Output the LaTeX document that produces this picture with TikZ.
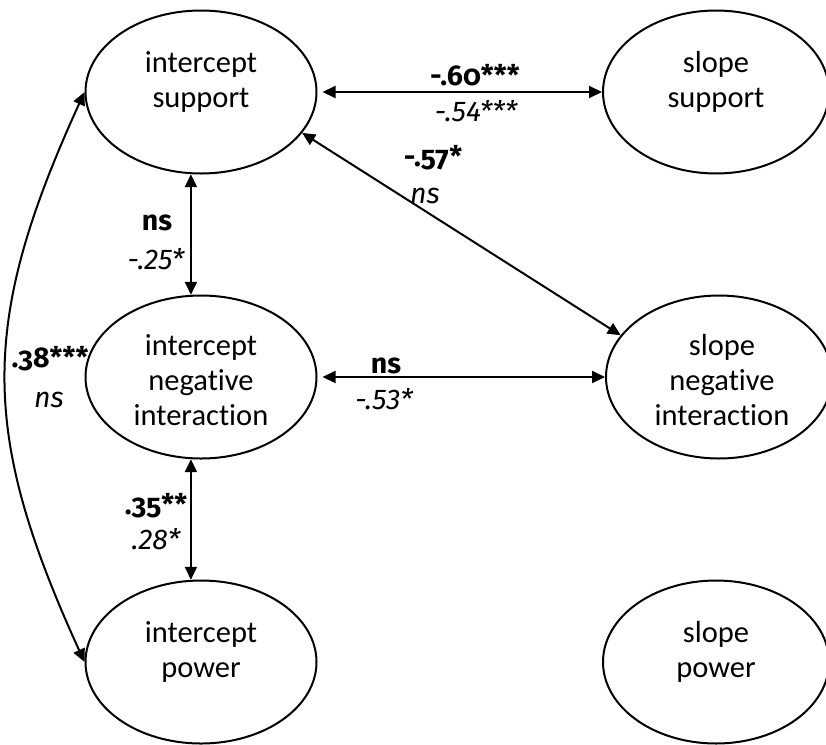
\documentclass[tikz,border=0pt]{standalone}
\usepackage{fontspec}
\setmainfont{Carlito}[Numbers=OldStyle,RawFeature=-liga]
\newfontfamily\coeffont{Fira Sans}[Numbers=OldStyle]
\newfontfamily\coeflining{Fira Sans}[Numbers=Lining]
\usetikzlibrary{shapes.geometric,arrows.meta}
\begin{document}
\begin{tikzpicture}[x=1pt,y=-1pt,
  latent/.style={draw,ellipse,line width=2pt,minimum width=231pt,minimum height=163pt,inner sep=0pt},
  factorname/.style={align=center,anchor=north,inner sep=0pt,font=\fontsize{30.5}{35}\selectfont},
  coef/.style={anchor=base,inner sep=0pt,font=\coeffont\fontsize{28.5}{32}\selectfont\bfseries},
  coefit/.style={anchor=base,inner sep=0pt,font=\coeflining\fontsize{28.5}{32}\selectfont\itshape},
  link/.style={line width=2pt,{Triangle[length=13pt,width=12pt]}-{Triangle[length=13pt,width=12pt]}}]
\useasboundingbox (0,0) rectangle (826,744);
\begin{scope}
\clip (0,0) rectangle (826,744);
% latent factors
\node[latent] (isup) at (201,92) {};
\node[latent] (ineg) at (201,377) {};
\node[latent] (ipow) at (201,662) {};
\node[latent,minimum width=226pt] (ssup) at (716,92) {};
\node[latent,minimum width=226pt] (sneg) at (719,377) {};
\node[latent,minimum width=226pt] (spow) at (716,662) {};
\end{scope}
% factor names, set from the top of each ellipse
\node[factorname] (tisup) at (201,51) {intercept\\support};
\node[factorname] (tineg) at (201,334) {intercept\\negative\\interaction};
\node[factorname] (tipow) at (201,621) {intercept\\power};
\node[factorname] (tssup) at (716,51) {slope\\support};
\node[factorname] (tsneg) at (722,334) {slope\\negative\\interaction};
\node[factorname] (tspow) at (716,621) {slope\\power};
% covariances
\draw[link,shorten <=5pt] (isup) -- (ssup);
\draw[link,shorten <=5pt] (ineg) -- (sneg);
\draw[link] (isup.-22) -- (sneg.157);
\draw[link] (isup.-97) -- (ineg.97);
\draw[link] (ineg.-97) -- (ipow.97);
\draw[link] (isup.west) .. controls +(-105,230) and +(-105,-230) .. (ipow.west);
% estimates
\node[coef] (c1) at (475,85) {-.60***};
\node[coefit] (c1b) at (476,121) {-.54***};
\node[coef] (c2) at (433,166) {-.57*};
\node[coefit] (c2b) at (425,203) {ns};
\node[coef] (c3) at (157,230) {ns};
\node[coefit] (c3b) at (156,269) {-.25*};
\node[coef] (c4) at (50,367) {.38***};
\node[coefit] (c4b) at (49,407) {ns};
\node[coef] (c5) at (386,373) {ns};
\node[coefit] (c5b) at (384,409) {-.53*};
\node[coef] (c6) at (156,514) {.35**};
\node[coefit] (c6b) at (156,549) {.28*};
\end{tikzpicture}
\end{document}
